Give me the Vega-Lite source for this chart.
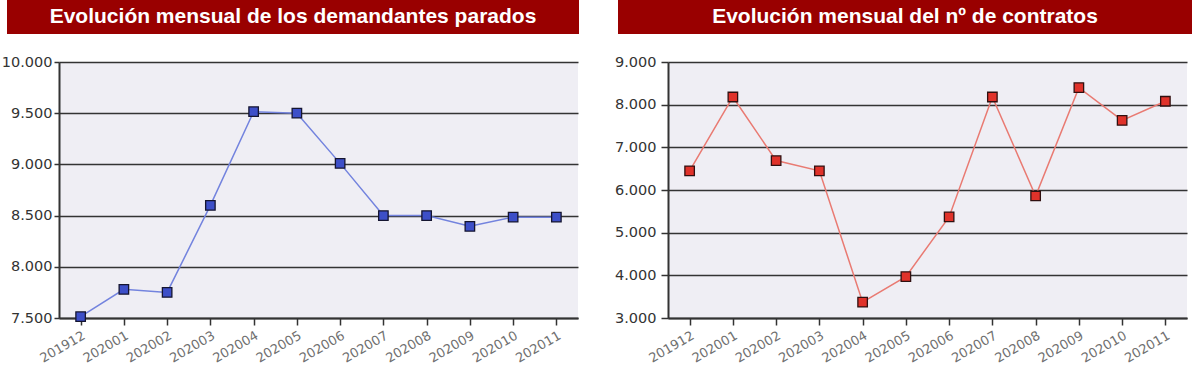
{
  "$schema": "https://vega.github.io/schema/vega-lite/v6.json",
  "background": "white",
  "padding": {"left": 0, "top": 0, "right": 0, "bottom": 0},
  "datasets": {
    "parados": [
      {"mes": "201912", "valor": 7513},
      {"mes": "202001", "valor": 7780},
      {"mes": "202002", "valor": 7750},
      {"mes": "202003", "valor": 8600},
      {"mes": "202004", "valor": 9515},
      {"mes": "202005", "valor": 9500},
      {"mes": "202006", "valor": 9010},
      {"mes": "202007", "valor": 8500},
      {"mes": "202008", "valor": 8500},
      {"mes": "202009", "valor": 8395},
      {"mes": "202010", "valor": 8485},
      {"mes": "202011", "valor": 8485}
    ],
    "contratos": [
      {"mes": "201912", "valor": 6450},
      {"mes": "202001", "valor": 8180},
      {"mes": "202002", "valor": 6690},
      {"mes": "202003", "valor": 6450},
      {"mes": "202004", "valor": 3370},
      {"mes": "202005", "valor": 3970},
      {"mes": "202006", "valor": 5370},
      {"mes": "202007", "valor": 8180},
      {"mes": "202008", "valor": 5860},
      {"mes": "202009", "valor": 8400},
      {"mes": "202010", "valor": 7630},
      {"mes": "202011", "valor": 8080}
    ]
  },
  "config": {
    "view": {"stroke": null},
    "axisY": {
      "title": null,
      "domain": true, "domainColor": "#333333", "domainWidth": 2,
      "ticks": true, "tickColor": "#333333", "tickSize": 7, "tickWidth": 1.5,
      "grid": true, "gridColor": "#333333", "gridWidth": 1.5, "gridOpacity": 1,
      "labelFont": "DejaVu Sans", "labelFontSize": 14.5, "labelColor": "#333333", "labelPadding": 5
    },
    "axisX": {
      "title": null,
      "domain": true, "domainColor": "#333333", "domainWidth": 2,
      "ticks": true, "tickColor": "#333333", "tickSize": 7, "tickWidth": 1.5,
      "grid": false,
      "labelFont": "DejaVu Sans", "labelFontSize": 13, "labelColor": "#707070",
      "labelAngle": -30, "labelAlign": "right", "labelBaseline": "top", "labelPadding": 4
    }
  },
  "spacing": 20,
  "vconcat": [
    {
      "spacing": 0,
      "hconcat": [
        {
          "width": 7, "height": 34,
          "view": {"stroke": null, "fill": null},
          "data": {"values": [{"t": ""}]},
          "mark": {"type": "text"},
          "encoding": {"text": {"field": "t"}}
        },
        {
          "width": 572, "height": 34,
          "view": {"stroke": null, "fill": "#990000"},
          "data": {"values": [{"t": "Evolución mensual de los demandantes parados"}]},
          "mark": {"type": "text", "font": "Liberation Sans", "fontWeight": "bold", "fontSize": 21, "color": "#ffffff", "align": "center", "baseline": "middle"},
          "encoding": {"text": {"field": "t"}}
        },
        {
          "width": 39, "height": 34,
          "view": {"stroke": null, "fill": null},
          "data": {"values": [{"t": ""}]},
          "mark": {"type": "text"},
          "encoding": {"text": {"field": "t"}}
        },
        {
          "width": 574, "height": 34,
          "view": {"stroke": null, "fill": "#990000"},
          "data": {"values": [{"t": "Evolución mensual del nº de contratos"}]},
          "mark": {"type": "text", "font": "Liberation Sans", "fontWeight": "bold", "fontSize": 21, "color": "#ffffff", "align": "center", "baseline": "middle"},
          "encoding": {"text": {"field": "t"}}
        }
      ]
    },
    {
      "spacing": 0,
      "hconcat": [
        {
          "width": 1, "height": 256,
          "view": {"stroke": null, "fill": null},
          "data": {"values": [{"t": ""}]},
          "mark": {"type": "text"},
          "encoding": {"text": {"field": "t"}}
        },
        {
          "spacing": 36,
          "hconcat": [
            {
              "width": 519, "height": 256,
              "view": {"stroke": null, "fill": "#EFEEF4"},
              "data": {"name": "parados"},
              "encoding": {
                "x": {"field": "mes", "type": "ordinal", "scale": {"type": "point", "padding": 0.5}},
                "y": {
                  "field": "valor", "type": "quantitative",
                  "scale": {"domain": [7500, 10000], "nice": false, "zero": false},
                  "axis": {"values": [7500, 8000, 8500, 9000, 9500, 10000], "tickSize": 5, "labelPadding": 2, "labelExpr": "replace(format(datum.value, ','), ',', '.')"}
                }
              },
              "layer": [
                {"mark": {"type": "line", "color": "#7383DE", "strokeWidth": 1.5}},
                {"mark": {"type": "point", "shape": "square", "filled": true, "size": 90, "fill": "#3D4FC8", "stroke": "#151530", "strokeWidth": 1.3, "opacity": 1}}
              ]
            },
            {
              "width": 519, "height": 256,
              "view": {"stroke": null, "fill": "#EFEEF4"},
              "data": {"name": "contratos"},
              "encoding": {
                "x": {"field": "mes", "type": "ordinal", "scale": {"type": "point", "padding": 0.5}},
                "y": {
                  "field": "valor", "type": "quantitative",
                  "scale": {"domain": [3000, 9000], "nice": false, "zero": false},
                  "axis": {"values": [3000, 4000, 5000, 6000, 7000, 8000, 9000], "labelExpr": "replace(format(datum.value, ','), ',', '.')"}
                }
              },
              "layer": [
                {"mark": {"type": "line", "color": "#E97A72", "strokeWidth": 1.5}},
                {"mark": {"type": "point", "shape": "square", "filled": true, "size": 90, "fill": "#E0322A", "stroke": "#301010", "strokeWidth": 1.3, "opacity": 1}}
              ]
            }
          ]
        }
      ]
    }
  ]
}
